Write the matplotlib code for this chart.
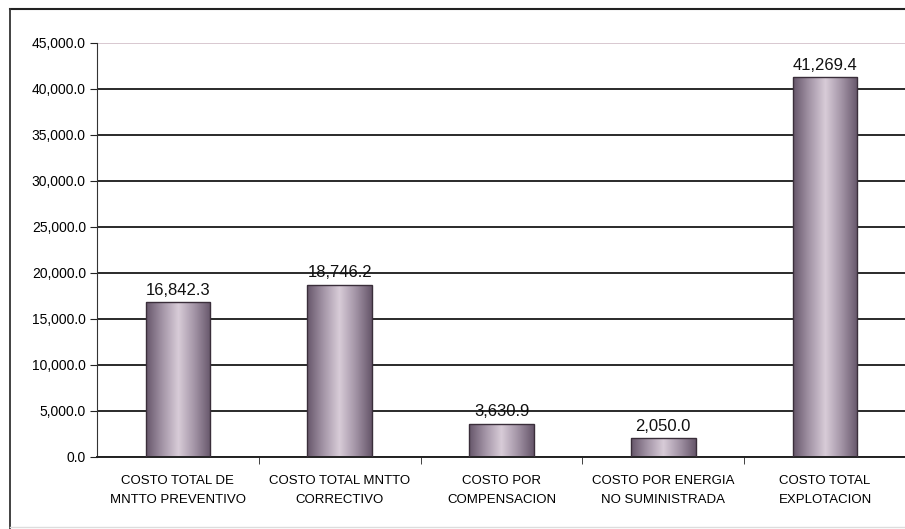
import numpy as np
import matplotlib.pyplot as plt
from matplotlib.colors import LinearSegmentedColormap
from matplotlib.lines import Line2D

plt.rcParams['font.family'] = ['Liberation Sans', 'DejaVu Sans']

categorias = ['COSTO TOTAL DE\nMNTTO PREVENTIVO', 'COSTO TOTAL MNTTO\nCORRECTIVO',
              'COSTO POR\nCOMPENSACION', 'COSTO POR ENERGIA\nNO SUMINISTRADA',
              'COSTO TOTAL\nEXPLOTACION']
costos = [16842.3, 18746.2, 3630.9, 2050.0, 41269.4]
y_ticks = [0, 5000, 10000, 15000, 20000, 25000, 30000, 35000, 40000, 45000]

W, H = 905, 529
fig = plt.figure(figsize=(W / 100, H / 100), dpi=100)
fig.patch.set_facecolor('white')

# area del grafico (en pixeles)
x0, x1 = 97, 906
y_top, y_bot = 43, 457
ax = fig.add_axes([x0 / W, 1 - y_bot / H, (x1 - x0) / W, (y_bot - y_top) / H])

x = np.arange(len(costos))
bars = ax.bar(x, costos, width=0.4, color='none', edgecolor='#3a2e3a', linewidth=1.0, zorder=3)

# relleno degradado de las barras (oscuro en los bordes, claro al centro)
cmap = LinearSegmentedColormap.from_list('barra', ['#66566a', '#a394a6', '#d8ccd8', '#a394a6', '#66566a'])
grad = np.linspace(0, 1, 256).reshape(1, -1)
for b in bars:
    im = ax.imshow(grad, cmap=cmap, aspect='auto', zorder=2.5,
                   extent=[b.get_x(), b.get_x() + b.get_width(), 0, b.get_height()])
    im.set_clip_path(b)

for xi, v in zip(x, costos):
    ax.annotate(f'{v:,.1f}', (xi, v), xytext=(0, 3), textcoords='offset points',
                ha='center', va='bottom', fontsize=12, color='#111111')

ax.set_xlim(-0.5, len(costos) - 0.5)
ax.set_ylim(0, 45000)
ax.set_yticks(y_ticks)
ax.set_yticklabels([f'{t:,.1f}' for t in y_ticks], fontsize=10)
ax.set_xticks(x)
ax.set_xticklabels(categorias, fontsize=9.5, linespacing=1.75)
ax.set_xticks(np.arange(0.5, len(costos) - 0.5), minor=True)
ax.tick_params(axis='x', which='major', length=0, pad=13)
ax.tick_params(axis='x', which='minor', length=5, direction='out', color='#222222')
ax.tick_params(axis='y', length=5, direction='out', color='#222222', pad=3)

ax.yaxis.grid(True, color='#2a2a2a', linewidth=1.4, zorder=1)
ax.set_axisbelow(True)
ax.get_ygridlines()[-1].set_color('#d8c8d0')

for s in ['top', 'right']:
    ax.spines[s].set_visible(False)
ax.spines['left'].set_color('#333333')
ax.spines['bottom'].set_color('#222222')
ax.spines['bottom'].set_linewidth(1.4)

# marco exterior
fig.add_artist(Line2D([10 / W, 1], [1 - 9 / H, 1 - 9 / H], color='#222222', lw=1.5))
fig.add_artist(Line2D([10 / W, 10 / W], [1 - 9 / H, 0], color='#333333', lw=1.3))
fig.add_artist(Line2D([10 / W, 1], [1 - 527 / H, 1 - 527 / H], color='#dddddd', lw=1.0))

fig.savefig('out.png', dpi=100)
